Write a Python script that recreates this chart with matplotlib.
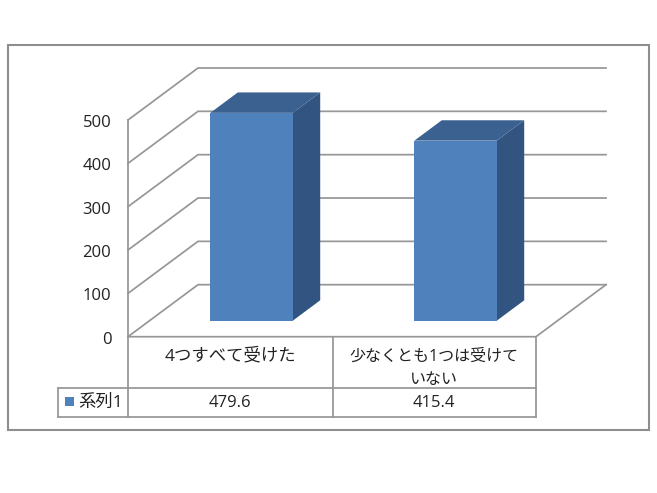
import matplotlib
matplotlib.use("Agg")
import matplotlib.pyplot as plt
from matplotlib.patches import Polygon, Rectangle
from matplotlib.lines import Line2D
from matplotlib.transforms import Affine2D, ScaledTranslation

plt.rcParams['font.family'] = ['Open Sans', 'Noto Sans CJK JP', 'DejaVu Sans']

categories = ["4つすべて受けた", "少なくとも1つは受けて\nいない"]
series_name = "系列1"
values = [479.6, 415.4]
value_labels = ["479.6", "415.4"]
y_ticks = [0, 100, 200, 300, 400, 500]

W, H = 657, 493
fig = plt.figure(figsize=(W / 100, H / 100), dpi=100, facecolor="white")
px = Affine2D().scale(1 / W, -1 / H).translate(0, 1) + fig.transFigure

LINE = "#969696"
FRONT, SIDE, TOP = "#4f81bd", "#315480", "#3b6190"
TEXT = "#222222"

# outer frame
fig.add_artist(Rectangle((7.5, 44.5), 641, 385, transform=px, fill=False, ec="#8e8e8e", lw=1.5))

# front plane of the 3D box is the axes
L, R, Y0, Y5 = 128, 536, 336.7, 120
ax = fig.add_axes([L / W, 1 - Y0 / H, (R - L) / W, (Y0 - Y5) / H])
ax.set_xlim(0, len(categories))
ax.set_ylim(0, 500)
ax.patch.set_visible(False)
for s in ax.spines.values():
    s.set_visible(False)
ax.set_xticks([])
ax.set_yticks(y_ticks)
ax.tick_params(axis="y", length=0, pad=12, labelsize=12, labelcolor=TEXT)
shift = ScaledTranslation(0, -1 / 100, fig.dpi_scale_trans)
for lab in ax.get_yticklabels():
    lab.set_transform(lab.get_transform() + shift)

DX = 70 / ((R - L) / len(categories))      # depth shift in category units
DY = 52 / ((Y0 - Y5) / 500)                # depth shift in value units


def P(x, y, z=0.0):
    return (x + z * DX, y + z * DY)


# walls and floor
LW = 1.25
for v in y_ticks:
    ax.plot(*zip(P(0, v, 0), P(0, v, 1), P(2, v, 1)), color=LINE, lw=LW, clip_on=False, zorder=1)
ax.plot(*zip(P(0, 500, 0), P(0, 0, 0), P(2, 0, 0), P(2, 0, 1)), color=LINE, lw=LW, clip_on=False, zorder=1)

# bars
BW, Z0, Z1 = 0.404, 0.308, 0.70
for i, v in enumerate(values):
    a, b = i + 0.5 - BW / 2, i + 0.5 + BW / 2
    ax.add_patch(Polygon([P(b, 0, Z0), P(b, 0, Z1), P(b, v, Z1), P(b, v, Z0)],
                         fc=SIDE, ec="none", clip_on=False, zorder=3))
    ax.add_patch(Polygon([P(a, v, Z0), P(b, v, Z0), P(b, v, Z1), P(a, v, Z1)],
                         fc=TOP, ec="none", clip_on=False, zorder=3))
    ax.add_patch(Polygon([P(a, 0, Z0), P(b, 0, Z0), P(b, v, Z0), P(a, v, Z0)],
                         fc=FRONT, ec="none", clip_on=False, zorder=4))

# data table
xs = [128, 332.5, 536]
Yt0, Yt1, Yt2 = 337, 388, 417
XL = 58
segments = [([128, 128], [Yt0, Yt2]), ([332.5, 332.5], [Yt0, Yt2]), ([536, 536], [Yt0, Yt2]),
            ([XL, 536], [Yt1, Yt1]), ([XL, 536], [Yt2, Yt2]), ([XL, XL], [Yt1, Yt2])]
for sx, sy in segments:
    fig.add_artist(Line2D(sx, sy, transform=px, color=LINE, lw=LW))

for i, (c, t) in enumerate(zip(categories, value_labels)):
    cx = (xs[i] + xs[i + 1]) / 2
    two_lines = "\n" in c
    fig.text(cx, 368.5 if two_lines else 356, c, transform=px, ha="center", va="center",
             fontsize=11.5 if two_lines else 12.5, color=TEXT, linespacing=1.55)
    fig.text(cx, 403, t, transform=px, ha="center", va="center", fontsize=12, color=TEXT)

fig.add_artist(Rectangle((65, 397), 9, 9, transform=px, fc=FRONT, ec="none"))
fig.text(78, 403, series_name, transform=px, ha="left", va="center", fontsize=12.5, color=TEXT)

fig.savefig("out.png", dpi=100, facecolor="white")
